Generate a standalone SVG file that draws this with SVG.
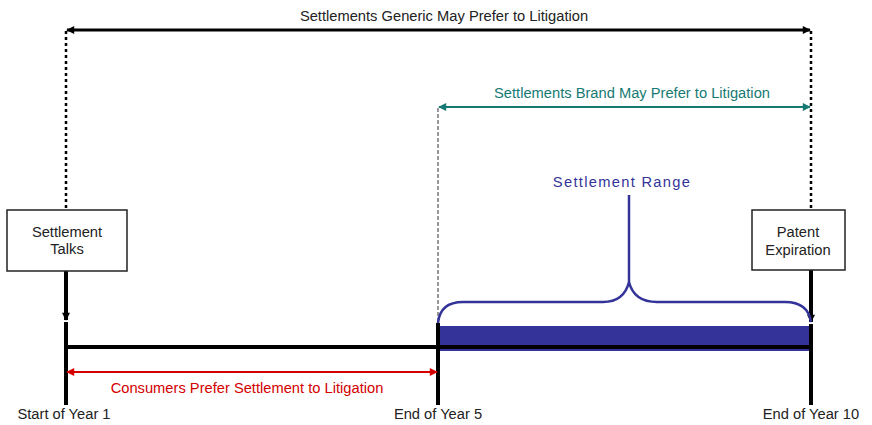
<svg xmlns="http://www.w3.org/2000/svg" width="872" height="425" viewBox="0 0 872 425">
  <style>
    text { font-family: "Liberation Sans", Arial, sans-serif; font-size: 14.7px; text-anchor: middle; }
    .lbl { fill: #222; }
    .box { fill: #fff; stroke: #222; stroke-width: 1.5; }
    .thick { stroke: #000; stroke-width: 4; fill: none; }
    .dot { stroke: #000; stroke-width: 2.5; stroke-dasharray: 3 3; fill: none; }
    .dash { stroke: #333; stroke-width: 1; stroke-dasharray: 4 2; fill: none; }
    .blue { stroke: #333399; stroke-width: 2.5; fill: none; }
  </style>
  <defs>
    <marker id="ahBlack" viewBox="0 0 10 10" refX="9" refY="5" markerUnits="userSpaceOnUse" markerWidth="9" markerHeight="8" orient="auto-start-reverse">
      <path d="M0,0 L10,5 L0,10 z" fill="#000"/>
    </marker>
    <marker id="ahTeal" viewBox="0 0 10 10" refX="9" refY="5" markerUnits="userSpaceOnUse" markerWidth="9" markerHeight="8" orient="auto-start-reverse">
      <path d="M0,0 L10,5 L0,10 z" fill="#157a73"/>
    </marker>
    <marker id="ahRed" viewBox="0 0 10 10" refX="9" refY="5" markerUnits="userSpaceOnUse" markerWidth="9" markerHeight="8" orient="auto-start-reverse">
      <path d="M0,0 L10,5 L0,10 z" fill="#d40000"/>
    </marker>
  </defs>

  <g id="connectors">
    <!-- generic preference span -->
    <line x1="67" y1="30" x2="810" y2="30" stroke="#000" stroke-width="3" marker-start="url(#ahBlack)" marker-end="url(#ahBlack)"/>
    <line class="dot" x1="66" y1="31" x2="66" y2="210"/>
    <line class="dot" x1="811" y1="31" x2="811" y2="210"/>
    <!-- brand preference span -->
    <line x1="439" y1="107" x2="810" y2="107" stroke="#157a73" stroke-width="2" marker-start="url(#ahTeal)" marker-end="url(#ahTeal)"/>
    <line class="dash" x1="438" y1="108" x2="438" y2="322"/>
    <!-- settlement range bar -->
    <rect x="438" y="326" width="373" height="25" fill="#333399"/>
    <!-- timeline -->
    <line class="thick" x1="66" y1="347" x2="811" y2="347"/>
    <line class="thick" x1="66" y1="271" x2="66" y2="320" marker-end="url(#ahBlack)"/>
    <line class="thick" x1="66" y1="322" x2="66" y2="405"/>
    <line class="thick" x1="811" y1="270" x2="811" y2="322" marker-end="url(#ahBlack)"/>
    <line class="thick" x1="811" y1="324" x2="811" y2="405"/>
    <line class="thick" x1="438" y1="323" x2="438" y2="405"/>
    <!-- brace over range -->
    <path class="blue" d="M438,323 Q440,302 463,302 L603,302 Q624,302 629,282 Q634,302 657,302 L785,302 Q808,302 811,322"/>
    <line class="blue" x1="629" y1="282" x2="629" y2="195"/>
    <!-- consumer preference span -->
    <line x1="67" y1="372" x2="437" y2="372" stroke="#d40000" stroke-width="2" marker-start="url(#ahRed)" marker-end="url(#ahRed)"/>
  </g>

  <g id="generic-label">
    <text class="lbl" x="444" y="21">Settlements Generic May Prefer to Litigation</text>
  </g>
  <g id="brand-label">
    <text x="632" y="98" fill="#157a73">Settlements Brand May Prefer to Litigation</text>
  </g>
  <g id="range-label">
    <text x="622" y="187" fill="#333399" letter-spacing="1.3">Settlement Range</text>
  </g>
  <g id="consumer-label">
    <text x="247" y="393" fill="#d40000">Consumers Prefer Settlement to Litigation</text>
  </g>

  <g id="settlement-talks">
    <rect class="box" x="7" y="210" width="120" height="61"/>
    <text class="lbl" x="67" y="237">Settlement</text>
    <text class="lbl" x="67" y="254">Talks</text>
  </g>
  <g id="patent-expiration">
    <rect class="box" x="752" y="210" width="93" height="60"/>
    <text class="lbl" x="798" y="237">Patent</text>
    <text class="lbl" x="798" y="255">Expiration</text>
  </g>

  <g id="tick-labels">
    <text class="lbl" x="64" y="419">Start of Year 1</text>
    <text class="lbl" x="438" y="419">End of Year 5</text>
    <text class="lbl" x="811" y="419">End of Year 10</text>
  </g>
</svg>
